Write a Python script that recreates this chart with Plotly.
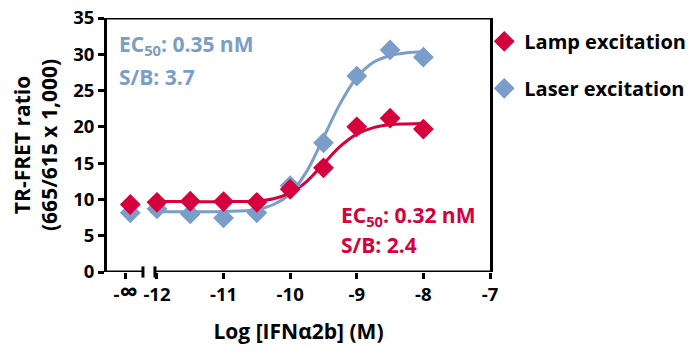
import plotly.graph_objects as go

# ---- data ----
x_points = [-12.4, -12, -11.5, -11, -10.5, -10, -9.5, -9, -8.5, -8]
lamp_y = [9.3, 9.6, 9.75, 9.7, 9.6, 11.4, 14.35, 20.0, 21.2, 19.7]
laser_y = [8.15, 8.7, 8.0, 7.45, 8.15, 11.9, 17.8, 27.0, 30.6, 29.6]

curve_x = [-12.1, -11.5, -11, -10.5, -10.25, -10, -9.75, -9.5, -9.25, -9, -8.75, -8.5, -8.25, -8]
lamp_fit = [9.7, 9.7, 9.7, 9.8, 10.1, 10.9, 12.5, 14.9, 17.3, 19.0, 19.9, 20.3, 20.4, 20.45]
laser_fit = [8.3, 8.3, 8.35, 8.6, 9.3, 10.8, 13.9, 18.5, 23.2, 26.8, 28.9, 29.8, 30.2, 30.35]

x_tickvals = [-12.47, -12, -11, -10, -9, -8, -7]
x_ticktext = ["-<span style='font-size:26px'>∞</span>", "-12", "-11", "-10", "-9", "-8", "-7"]
y_tickvals = [0, 5, 10, 15, 20, 25, 30, 35]

RED = "#D5003C"
BLUE = "#7B9DC9"
FONT = "Open Sans"
TICK = dict(size=18.5, family=FONT, weight="bold", color="black")
BIG = 21

# the page has an 8px body margin: size the figure so the page fits the window exactly
W, H = 697 - 8, 356 - 16
OFF = 8

fig = go.Figure()

fig.add_trace(go.Scatter(x=curve_x, y=laser_fit, mode="lines", line=dict(color=BLUE, width=3, shape="spline"),
                         showlegend=False, hoverinfo="skip"))
fig.add_trace(go.Scatter(x=curve_x, y=lamp_fit, mode="lines", line=dict(color=RED, width=3, shape="spline"),
                         showlegend=False, hoverinfo="skip"))
fig.add_trace(go.Scatter(x=x_points, y=laser_y, mode="markers", name="Laser excitation",
                         marker=dict(symbol="diamond", size=16, color=BLUE), legendgroup="b", legendrank=2))
fig.add_trace(go.Scatter(x=x_points, y=lamp_y, mode="markers", name="Lamp excitation",
                         marker=dict(symbol="diamond", size=16, color=RED), legendgroup="a", legendrank=1))

xmin, xmax = -12.75, -7
brk_l, brk_r = -12.21, -12.03

shapes = [
    dict(type="line", xref="x", yref="y", x0=xmin, x1=brk_l, y0=0, y1=0, line=dict(color="black", width=3)),
    dict(type="line", xref="x", yref="y", x0=brk_r, x1=xmax, y0=0, y1=0, line=dict(color="black", width=3)),
    dict(type="line", xref="x", yref="paper", x0=brk_l, x1=brk_l, y0=-0.022, y1=0.022, line=dict(color="black", width=3)),
    dict(type="line", xref="x", yref="paper", x0=brk_r, x1=brk_r, y0=-0.022, y1=0.022, line=dict(color="black", width=3)),
    dict(type="line", xref="paper", yref="y", x0=0, x1=1, y0=35, y1=35, line=dict(color="black", width=3)),
]

fig.update_layout(
    width=W, height=H,
    margin=dict(l=107 - OFF, r=W - (490 - OFF), t=18 - OFF, b=H - (272 - OFF), autoexpand=False),
    plot_bgcolor="white", paper_bgcolor="white",
    font=dict(family=FONT, size=BIG, color="black", weight="bold"),
    shapes=shapes,
    xaxis=dict(range=[xmin, xmax], showline=False, showgrid=False, zeroline=False, automargin=False,
               tickmode="array", tickvals=x_tickvals, ticktext=x_ticktext, ticklabeloverflow="allow",
               ticks="outside", ticklen=6, tickwidth=3, tickcolor="black",
               tickfont=TICK,
               title=dict(text="Log [IFNα2b] (M)", font=dict(size=BIG, family=FONT, weight="bold"), standoff=16)),
    yaxis=dict(range=[0, 35], showline=True, linewidth=3, linecolor="black", mirror=True, automargin=False,
               showgrid=False, zeroline=False, tickvals=y_tickvals, ticklabeloverflow="allow",
               ticks="outside", ticklen=6, tickwidth=3, tickcolor="black",
               tickfont=TICK),
    legend=dict(x=0.985, y=0.985, xanchor="left", yanchor="top", tracegroupgap=18,
                font=dict(size=20, family=FONT, weight="bold"), bgcolor="rgba(0,0,0,0)",
                itemwidth=30),
    annotations=[
        dict(text="TR-FRET ratio<br>(665/615 x 1,000)", xref="paper", yref="paper", x=0, y=0.5,
             xshift=-72, textangle=-90, xanchor="center", yanchor="middle", showarrow=False,
             font=dict(size=21, family=FONT, weight="bold", color="black")),
        dict(text="EC<sub>50</sub>: 0.35 nM", xref="paper", yref="paper", x=0.027, y=0.894,
             xanchor="left", yanchor="middle", showarrow=False, font=dict(color=BLUE, size=BIG, family=FONT, weight="bold")),
        dict(text="S/B: 3.7", xref="paper", yref="paper", x=0.027, y=0.768,
             xanchor="left", yanchor="middle", showarrow=False, font=dict(color=BLUE, size=BIG, family=FONT, weight="bold")),
        dict(text="EC<sub>50</sub>: 0.32 nM", xref="paper", yref="paper", x=0.606, y=0.222,
             xanchor="left", yanchor="middle", showarrow=False, font=dict(color=RED, size=BIG, family=FONT, weight="bold")),
        dict(text="S/B: 2.4", xref="paper", yref="paper", x=0.606, y=0.106,
             xanchor="left", yanchor="middle", showarrow=False, font=dict(color=RED, size=BIG, family=FONT, weight="bold")),
    ],
)

fig.write_html("out.html")
